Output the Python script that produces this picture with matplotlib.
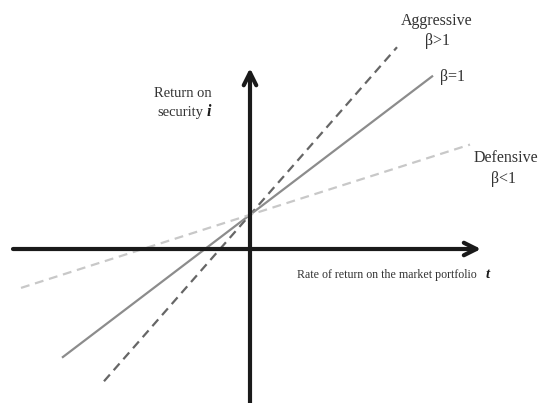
import numpy as np
import matplotlib.pyplot as plt

plt.rcParams['font.family'] = ['Liberation Serif', 'DejaVu Serif']

# security market lines: intercept shared, slopes (betas) differ
alpha = 0.45
names = ['Aggressive', 'Neutral', 'Defensive']
betas = [1.5, 1.0, 0.42]
x_from = [-1.46, -1.88, -2.29]
x_to = [1.47, 1.83, 2.20]
colors = ['#666666', '#8c8c8c', '#c8c8c8']
styles = [(0, (4, 2.6)), '-', (0, (4, 2.6))]

fig = plt.figure(figsize=(5.41, 4.03), dpi=100)
ax = fig.add_axes([0, 0, 1, 1])
ax.set_xlim(-2.5, 2.91)
ax.set_ylim(-2.026, 3.276)
ax.axis('off')

# axes with arrows
ax.annotate('', xy=(2.31, 0), xytext=(-2.37, 0),
            arrowprops=dict(arrowstyle='->,head_length=0.9,head_width=0.45',
                            lw=3, color='#1a1a1a', shrinkA=0, shrinkB=0))
ax.annotate('', xy=(0, 2.38), xytext=(0, -2.03),
            arrowprops=dict(arrowstyle='->,head_length=0.9,head_width=0.45',
                            lw=3, color='#1a1a1a', shrinkA=0, shrinkB=0))

for b, x0, x1, c, ls in zip(betas, x_from, x_to, colors, styles):
    xs = np.array([x0, x1])
    ax.plot(xs, alpha + b * xs, color=c, ls=ls, lw=1.6, solid_capstyle='butt')

fs = 11.5
tc = '#333333'
ax.text(1.87, 2.87, 'Aggressive\nβ>1', ha='center', va='center', fontsize=fs,
        color=tc, linespacing=1.35)
ax.text(1.90, 2.26, 'β=1', ha='left', va='center', fontsize=fs, color=tc)
ax.text(2.24, 1.20, 'Defensive', ha='left', va='center', fontsize=fs, color=tc)
ax.text(2.41, 0.92, 'β<1', ha='left', va='center', fontsize=fs, color=tc)

ax.text(-0.67, 2.05, 'Return on', ha='center', va='center', fontsize=fs - 1, color=tc)
ax.text(-0.70, 1.80, 'security', ha='center', va='center', fontsize=fs - 1, color=tc)
ax.text(-0.41, 1.80, 'i', ha='center', va='center', fontsize=fs,
        color='#1a1a1a', fontweight='bold', fontstyle='italic')

ax.text(0.47, -0.34, 'Rate of return on the market portfolio', ha='left',
        va='center', fontsize=8.6, color=tc)
ax.text(2.38, -0.34, 't', ha='center', va='center', fontsize=fs - 1,
        color='#1a1a1a', fontweight='bold', fontstyle='italic')

fig.savefig('out.png', dpi=100)
